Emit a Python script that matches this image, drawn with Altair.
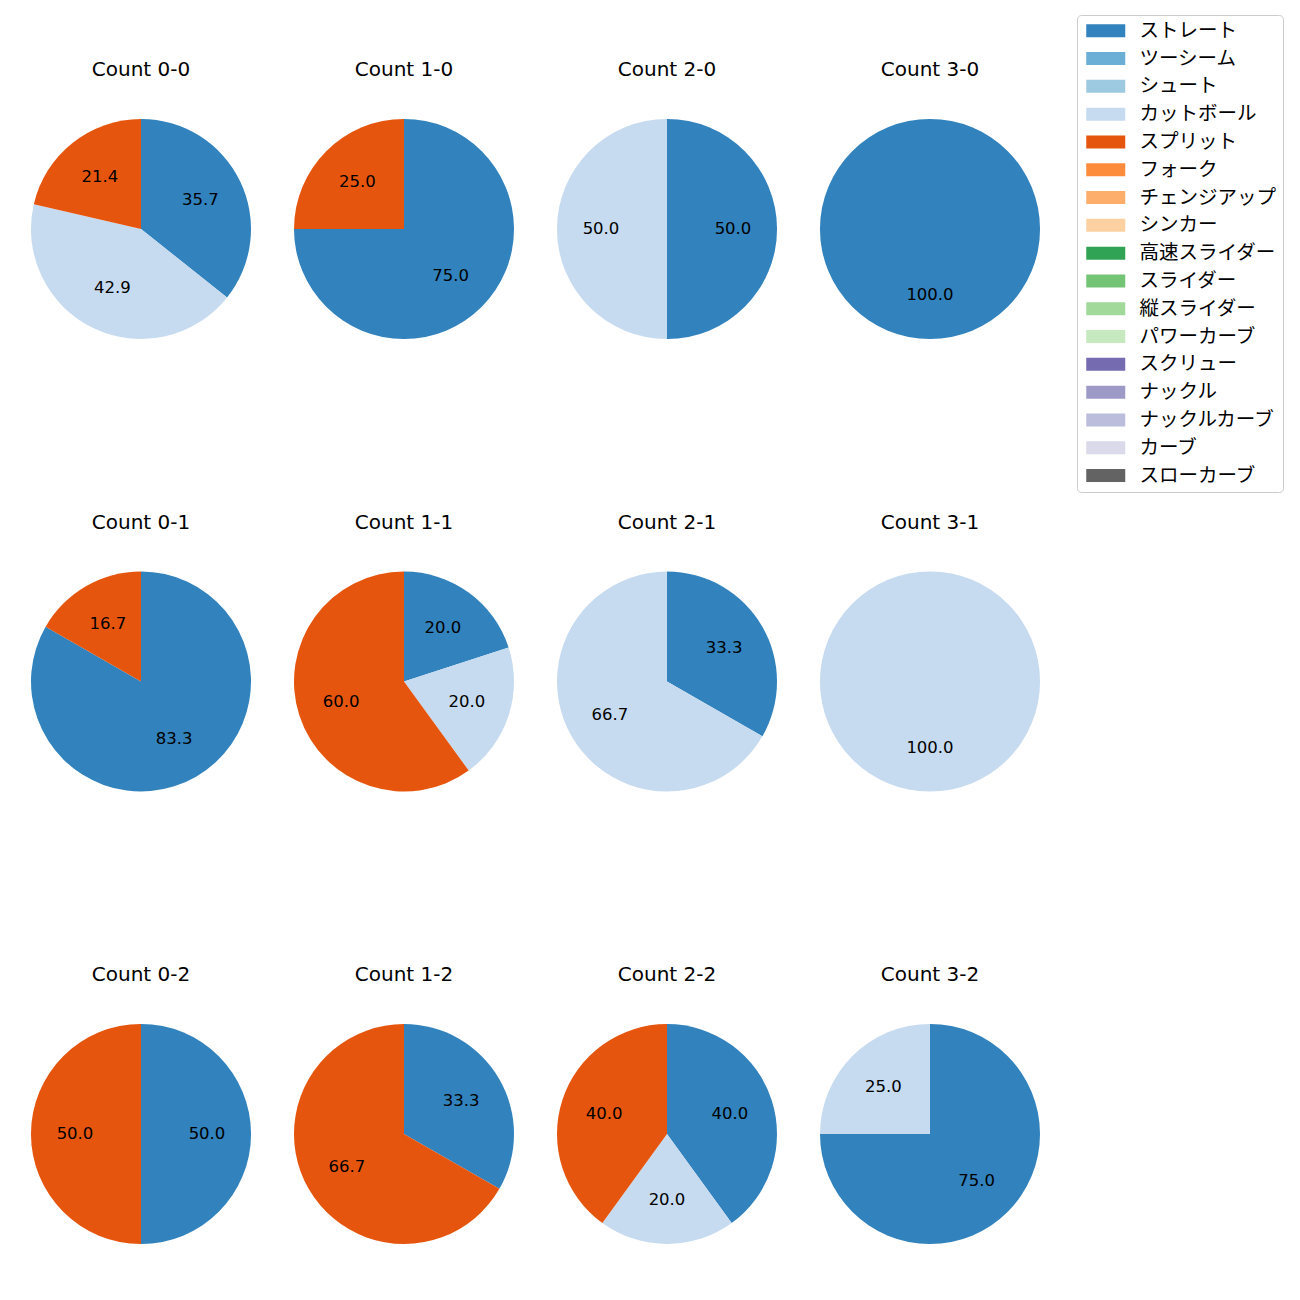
import altair as alt
import pandas as pd

counts = ["0-0", "1-0", "2-0", "3-0", "0-1", "1-1", "2-1", "3-1", "0-2", "1-2", "2-2", "3-2"]

pitch_names = ["ストレート", "ツーシーム", "シュート", "カットボール", "スプリット", "フォーク",
               "チェンジアップ", "シンカー", "高速スライダー", "スライダー", "縦スライダー",
               "パワーカーブ", "スクリュー", "ナックル", "ナックルカーブ", "カーブ", "スローカーブ"]
pitch_colors = ["#3182bd", "#6baed6", "#9ecae1", "#c6dbef", "#e6550d", "#fd8d3c",
                "#fdae6b", "#fdd0a2", "#31a354", "#74c476", "#a1d99b", "#c7e9c0",
                "#756bb1", "#9e9ac8", "#bcbddc", "#dadaeb", "#636363"]

straight = [35.7, 75.0, 50.0, 100.0, 83.3, 20.0, 33.3, 0.0, 50.0, 33.3, 40.0, 75.0]
cutball = [42.9, 0.0, 50.0, 0.0, 0.0, 20.0, 66.7, 100.0, 0.0, 0.0, 20.0, 25.0]
split = [21.4, 25.0, 0.0, 0.0, 16.7, 60.0, 0.0, 0.0, 50.0, 66.7, 40.0, 0.0]

rows = []
for i, c in enumerate(counts):
    for name, vals in (("ストレート", straight), ("カットボール", cutball), ("スプリット", split)):
        v = vals[i]
        if v > 0:
            rows.append({"count": "Count " + c, "pitch": name, "value": v,
                         "order": pitch_names.index(name)})
df = pd.DataFrame(rows)

JP_FONT = "Noto Sans CJK JP"
LAT_FONT = "DejaVu Sans"

base = alt.Chart(df).encode(
    theta=alt.Theta("value:Q", stack=True),
    order=alt.Order("order:Q", sort="ascending"),
)

arcs = base.mark_arc(outerRadius=110).encode(
    color=alt.Color(
        "pitch:N",
        scale=alt.Scale(domain=pitch_names, range=pitch_colors),
        legend=alt.Legend(
            title=None,
            orient="none",
            legendX=1046,
            legendY=-104,
            symbolType="M-1,-1H5V1H-1Z",
            symbolSize=169,
            symbolStrokeWidth=0,
            labelFontSize=19.5,
            labelFont=JP_FONT,
            labelColor="#000000",
            labelOffset=37,
            rowPadding=6.8,
            padding=6,
            strokeColor="#cccccc",
            cornerRadius=4,
            labelLimit=300,
            values=pitch_names,
        ),
    )
)

labels = base.mark_text(radius=66, fontSize=16.5, font=LAT_FONT, color="#000000").encode(
    text=alt.Text("value:Q", format=".1f")
)

chart = alt.layer(arcs, labels, data=df).properties(width=220, height=220).facet(
    facet=alt.Facet(
        "count:N",
        sort=["Count " + c for c in counts],
        header=alt.Header(title=None, labelFontSize=20, labelFont=LAT_FONT,
                          labelColor="#000000", labelPadding=39),
    ),
    columns=4,
    spacing={"column": 43, "row": 173.5},
).properties(
    padding={"left": 23, "top": 6, "right": 5, "bottom": 5}
).configure_view(stroke=None)

chart.save("out.html", embed_options={"renderer": "svg", "actions": False})
